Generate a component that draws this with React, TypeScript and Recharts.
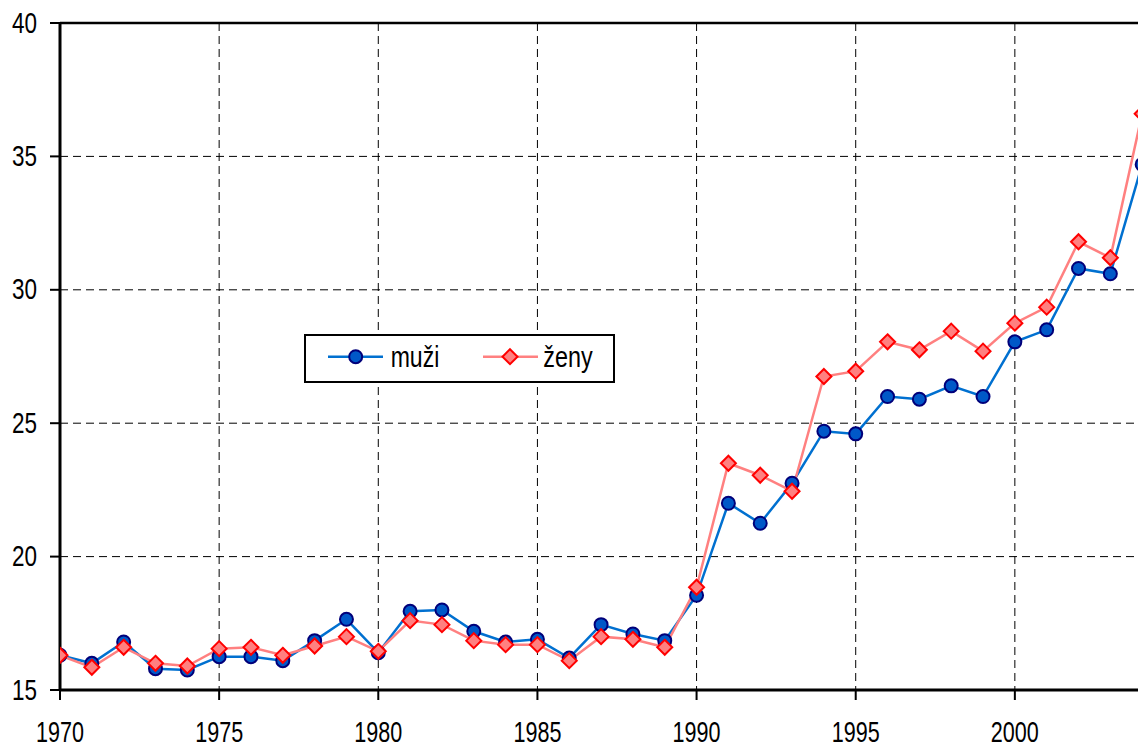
import React from 'react'
import {
  CartesianGrid,
  Legend,
  Line,
  LineChart,
  ReferenceLine,
  XAxis,
  YAxis,
} from 'recharts'

const years = [
  1970, 1971, 1972, 1973, 1974, 1975, 1976, 1977, 1978, 1979,
  1980, 1981, 1982, 1983, 1984, 1985, 1986, 1987, 1988, 1989,
  1990, 1991, 1992, 1993, 1994, 1995, 1996, 1997, 1998, 1999,
  2000, 2001, 2002, 2003, 2004,
]

const muzi = [
  16.3, 16.0, 16.8, 15.8, 15.75, 16.25, 16.25, 16.1, 16.85, 17.65,
  16.4, 17.95, 18.0, 17.2, 16.8, 16.9, 16.2, 17.45, 17.1, 16.85,
  18.55, 22.0, 21.25, 22.75, 24.7, 24.6, 26.0, 25.9, 26.4, 26.0,
  28.05, 28.5, 30.8, 30.6, 34.7,
]

const zeny = [
  16.3, 15.85, 16.6, 16.0, 15.9, 16.55, 16.6, 16.3, 16.65, 17.0,
  16.45, 17.6, 17.45, 16.85, 16.7, 16.7, 16.1, 17.0, 16.9, 16.6,
  18.85, 23.5, 23.05, 22.45, 26.75, 26.95, 28.05, 27.75, 28.45, 27.7,
  28.75, 29.35, 31.8, 31.2, 36.6,
]

const xTicks = [1970, 1975, 1980, 1985, 1990, 1995, 2000]
const yTicks = [15, 20, 25, 30, 35, 40]

const data = years.map((year, i) => ({ year, muzi: muzi[i], zeny: zeny[i] }))

const FONT = '"Liberation Sans Narrow", "Arial Narrow", "Liberation Sans", Arial, sans-serif'

const XTick = (props: any) => {
  const { x, y, payload } = props
  return (
    <text
      x={x}
      y={y}
      dy={40}
      textAnchor="middle"
      fontSize={30}
      fontFamily={FONT}
      fill="#000"
      textLength={48}
      lengthAdjust="spacingAndGlyphs"
    >
      {payload.value}
    </text>
  )
}

const YTick = (props: any) => {
  const { x, y, payload } = props
  return (
    <text
      x={x - 11}
      y={y}
      dy={9.5}
      textAnchor="end"
      fontSize={30}
      fontFamily={FONT}
      fill="#000"
      textLength={25}
      lengthAdjust="spacingAndGlyphs"
    >
      {payload.value}
    </text>
  )
}

const CircleDot = (props: any) => {
  const { cx, cy, index } = props
  if (cx == null || cy == null) return null
  return <circle key={`m-${index}`} cx={cx} cy={cy} r={6.5} fill="#0058c8" stroke="#00007a" strokeWidth={2} />
}

const DiamondDot = (props: any) => {
  const { cx, cy, index } = props
  if (cx == null || cy == null) return null
  const s = 7.5
  return (
    <path
      key={`z-${index}`}
      d={`M${cx},${cy - s}L${cx + s},${cy}L${cx},${cy + s}L${cx - s},${cy}Z`}
      fill="#ff8080"
      stroke="#ff0000"
      strokeWidth={2}
    />
  )
}

const LegendBox = () => (
  <svg width={311} height={49} style={{ display: 'block' }}>
    <rect x={1} y={1} width={309} height={47} fill="#fff" stroke="#000" strokeWidth={2} />
    <line x1={24} y1={22.7} x2={79} y2={22.7} stroke="#0070d0" strokeWidth={2.5} />
    <circle cx={51.7} cy={22.7} r={6.5} fill="#0058c8" stroke="#00007a" strokeWidth={2} />
    <text x={86.7} y={33.3} fontSize={30} fontFamily={FONT} textLength={48.6} lengthAdjust="spacingAndGlyphs">
      muži
    </text>
    <line x1={179} y1={22.7} x2={234} y2={22.7} stroke="#ff8080" strokeWidth={2.5} />
    <path d="M206,15.2L213.5,22.7L206,30.2L198.5,22.7Z" fill="#ff8080" stroke="#ff0000" strokeWidth={2} />
    <text x={239.3} y={33.3} fontSize={30} fontFamily={FONT} textLength={49.4} lengthAdjust="spacingAndGlyphs">
      ženy
    </text>
  </svg>
)

export default function App() {
  return (
    <div
      style={{
        position: 'absolute',
        left: 0,
        top: 0,
        width: 1138,
        height: 747,
        overflow: 'hidden',
        background: '#fff',
      }}
    >
      <LineChart width={1174} height={747} data={data} margin={{ top: 23, right: 0, bottom: 0, left: 0 }}>
        <CartesianGrid stroke="#000" strokeDasharray="8 5" strokeWidth={1} />
        <XAxis
          dataKey="year"
          type="number"
          domain={[1970, 2005]}
          ticks={xTicks}
          interval={0}
          allowDataOverflow
          height={57}
          tickSize={10}
          axisLine={{ stroke: '#000', strokeWidth: 3 }}
          tickLine={{ stroke: '#000', strokeWidth: 2 }}
          tick={XTick}
        />
        <YAxis
          domain={[15, 40]}
          ticks={yTicks}
          interval={0}
          allowDataOverflow
          width={60}
          tickSize={10}
          axisLine={{ stroke: '#000', strokeWidth: 3 }}
          tickLine={{ stroke: '#000', strokeWidth: 2 }}
          tick={YTick}
        />
        <ReferenceLine y={40} stroke="#000" strokeWidth={2.5} />
        <Legend
          layout="horizontal"
          verticalAlign="middle"
          align="center"
          content={LegendBox}
          wrapperStyle={{ position: 'absolute', left: 304, top: 334, width: 311, height: 49 }}
        />
        <Line
          dataKey="muzi"
          name="muži"
          stroke="#0070d0"
          strokeWidth={2.5}
          dot={CircleDot}
          activeDot={false}
          isAnimationActive={false}
        />
        <Line
          dataKey="zeny"
          name="ženy"
          stroke="#ff8080"
          strokeWidth={2.5}
          dot={DiamondDot}
          activeDot={false}
          isAnimationActive={false}
        />
      </LineChart>
    </div>
  )
}
